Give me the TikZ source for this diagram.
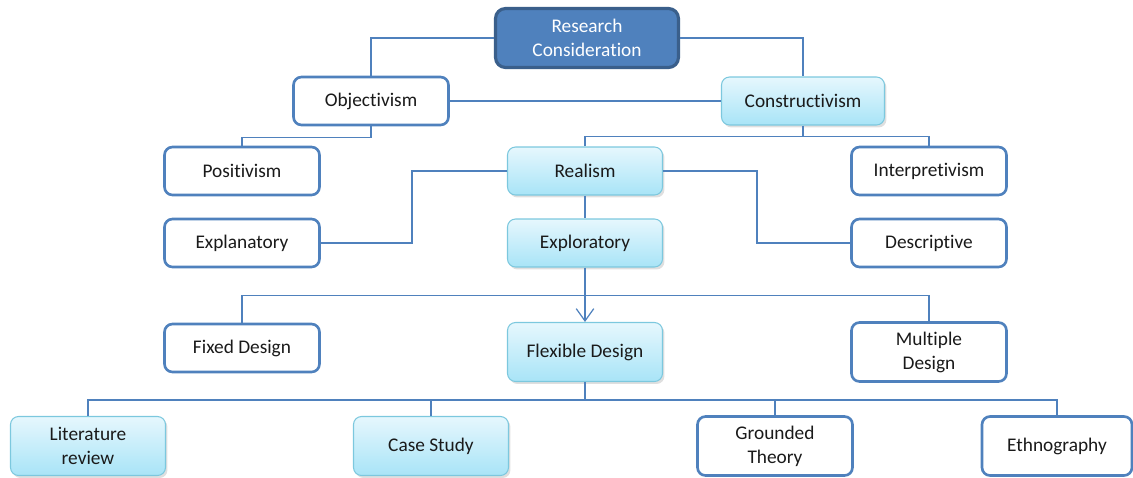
\documentclass[tikz,border=0pt]{standalone}
\usepackage{fontspec}
\setmainfont{Carlito}[Ligatures = {NoCommon, NoContextual}]
\usetikzlibrary{arrows.meta,shadows}
\definecolor{lineblue}{HTML}{4F81BD}
\definecolor{darkblue}{HTML}{3A5F8B}
\definecolor{cyanedge}{HTML}{7CC8DE}
\definecolor{cyantop}{HTML}{E6F7FD}
\definecolor{cyanbot}{HTML}{A8E4F7}
\definecolor{textgray}{HTML}{1A1A1A}
\begin{document}
\begin{tikzpicture}[x=0.02cm, y=-0.02cm,
    box/.style = {rounded corners = 0.16cm, minimum width = 3.1cm, minimum height = 0.96cm,
                  align = center, inner sep = 1pt, text = textgray,
                  font = \fontsize{11}{13.6}\selectfont},
    plainbox/.style = {box, draw = lineblue, line width = 1.5pt, fill = white},
    cyanbox/.style = {box, draw = cyanedge, line width = 0.6pt,
                      top color = cyantop, bottom color = cyanbot,
                      drop shadow = {opacity = 0.25, shadow xshift = 0.04cm, shadow yshift = -0.05cm}},
    tall/.style = {minimum height = 1.18cm},
    link/.style = {draw = lineblue, line width = 0.7pt}]
  \useasboundingbox (0, 0) rectangle (1133, 477);

  % boxes
  \node [box, tall, minimum width = 3.66cm, draw = darkblue, line width = 1.8pt, fill = lineblue,
         text = white, rounded corners = 0.2cm] (rc) at (587, 38) {Research\\Consideration};
  \node [plainbox] (obj)  at (371, 101) {Objectivism};
  \node [cyanbox, minimum width = 3.26cm] (con) at (803, 101) {Constructivism};
  \node [plainbox] (pos)  at (242, 171) {Positivism};
  \node [cyanbox]  (rea)  at (585, 171) {Realism};
  \node [plainbox] (inte) at (929, 171) {Interpretivism};
  \node [plainbox] (expn) at (242, 243) {Explanatory};
  \node [cyanbox]  (expl) at (585, 243) {Exploratory};
  \node [plainbox] (desc) at (929, 243) {Descriptive};
  \node [plainbox] (fix)  at (242, 348) {Fixed Design};
  \node [cyanbox, tall]  (flex) at (585, 352) {Flexible Design};
  \node [plainbox, tall] (mul)  at (929, 352) {Multiple\\Design};
  \node [cyanbox, tall]  (lit)  at (88, 446)   {Literature\\review};
  \node [cyanbox, tall]  (case) at (431, 446)  {Case Study};
  \node [plainbox, tall] (gro)  at (775, 446)  {Grounded\\Theory};
  \node [plainbox, tall, minimum width = 3.0cm] (eth) at (1057, 446) {Ethnography};

  % connectors
  \draw [link] (rc.west) -| (obj.north);
  \draw [link] (rc.east) -| (con.north);
  \draw [link] (obj) -- (con);
  \draw [link] (obj.south) -- ++(0, 11) -| (pos.north);
  \draw [link] (con.south) -- ++(0, 11) coordinate (cj);
  \draw [link] (rea.north) |- (cj) -| (inte.north);
  \draw [link] (rea.west) -- ++(-95, 0) |- (expn.east);
  \draw [link] (rea.east) -- ++(94, 0) |- (desc.west);
  \draw [link] (rea) -- (expl);
  \draw [link] (expl.south) -- ++(0, 28) coordinate (ej);
  \draw [link] (fix.north) |- (ej) -| (mul.north);
  \draw [link, -{Straight Barb[length = 7pt, width = 10pt]}] (ej) -- (flex.north);
  \draw [link] (flex.south) -- ++(0, 18) coordinate (fj);
  \draw [link] (lit.north) |- (fj) -| (eth.north);
  \draw [link] (case.north) -- (case.north |- fj);
  \draw [link] (gro.north) -- (gro.north |- fj);
\end{tikzpicture}
\end{document}
